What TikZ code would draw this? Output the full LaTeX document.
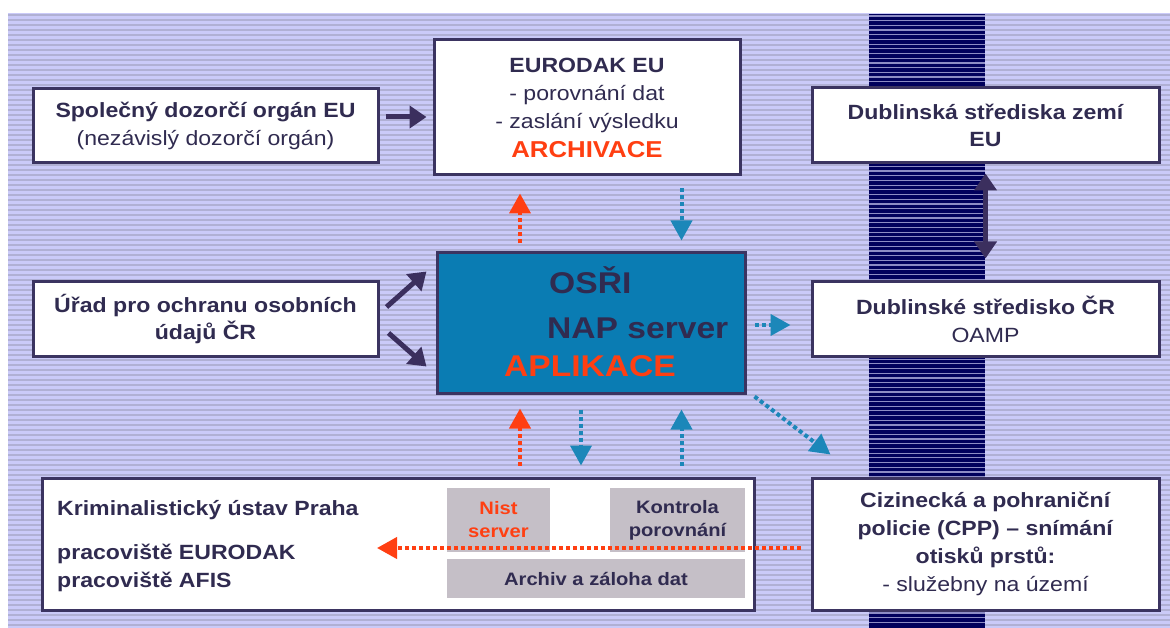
\documentclass[tikz,border=0pt]{standalone}
\usepackage{fontspec}
\setmainfont{Liberation Sans}[FakeStretch=1.12]
\usepackage{tikz}
\usetikzlibrary{arrows.meta}
\usepackage{xcolor}
\definecolor{bglav}{HTML}{CACAF8}
\definecolor{bgline}{HTML}{B0B0D4}
\definecolor{bandnavy}{HTML}{00005C}
\definecolor{bandline}{HTML}{8C8CC4}
\definecolor{boxline}{HTML}{3B3461}
\definecolor{txtnavy}{HTML}{302B50}
\definecolor{osriblue}{HTML}{0A7CB3}
\definecolor{aplred}{HTML}{FF3F12}
\definecolor{arrowdark}{HTML}{3B2F5E}
\definecolor{dotblue}{HTML}{1C87B9}
\definecolor{grayfill}{HTML}{C5BFC7}

\begin{document}
\begin{tikzpicture}[x=1pt,y=-1pt,
  whitebox/.style={draw=boxline, line width=3pt, fill=white, text=txtnavy, align=center,
    inner sep=0pt, font=\fontsize{20.6}{28}\selectfont},
  osribox/.style={draw=boxline, line width=3pt, fill=osriblue, inner sep=0pt},
  osritext/.style={font=\bfseries\fontsize{30}{36}\selectfont, inner sep=0pt},
  graybox/.style={fill=grayfill, inner sep=0pt, align=center, text=txtnavy,
    font=\bfseries\fontsize{18}{23}\selectfont},
  krimtext/.style={anchor=base west, inner sep=0pt, text=txtnavy, font=\bfseries\fontsize{20.6}{28}\selectfont},
  darrow/.style={-{Triangle[length=17pt,width=22pt]}, line width=5pt, draw=arrowdark},
  dblarrow/.style={{Triangle[length=17pt,width=22pt]}-{Triangle[length=17pt,width=22pt]},
    line width=5pt, draw=arrowdark},
  redarrow/.style={-{Triangle[length=20pt,width=21pt]}, line width=4pt, draw=aplred,
    dash pattern=on 4pt off 3pt},
  bluearrow/.style={-{Triangle[length=20pt,width=21pt]}, line width=4pt, draw=dotblue,
    dash pattern=on 4pt off 3pt}]
  \useasboundingbox (0,0) rectangle (1170,628);
  % striped background and dark band
  \fill[white] (0,0) rectangle (1170,628);
  \fill[bglav] (8,13) rectangle (1170,628);
  \foreach \y in {15,20,...,625}
    \draw[bgline, line width=1.5pt] (8,\y) -- (1170,\y);
  \fill[bandnavy] (869,14) rectangle (985,628);
  \foreach \y in {16,20.7,...,626}
    \draw[bandline, line width=1.2pt] (869,\y) -- (985,\y);

  % boxes
  \node[whitebox, minimum width=345pt, minimum height=74pt] (spol) at (205.5,126)
    {\textbf{Společný dozorčí orgán EU}\\(nezávislý dozorčí orgán)};
  \node[whitebox, minimum width=306pt, minimum height=135pt] (euro) at (587,107.5)
    {\textbf{EURODAK EU}\\- porovnání dat\\- zaslání výsledku\\[1pt]
     \textcolor{aplred}{\bfseries\fontsize{23}{28}\selectfont ARCHIVACE}};
  \node[whitebox, font=\bfseries\fontsize{20.6}{27}\selectfont, minimum width=347pt,
    minimum height=75pt] (dubeu) at (985.5,125.5) {Dublinská střediska zemí\\EU};
  \node[whitebox, font=\bfseries\fontsize{20.6}{27}\selectfont, minimum width=345pt,
    minimum height=74pt] (urad) at (205.5,319) {Úřad pro ochranu osobních\\údajů ČR};
  \node[osribox, minimum width=308pt, minimum height=140pt] (osri) at (591,323) {};
  \node[osritext, text=txtnavy, anchor=base west] (osrit) at (549,294) {OSŘI};
  \node[osritext, text=txtnavy, anchor=base west] (napt) at (547,338) {NAP server};
  \node[osritext, text=aplred, anchor=base] (aplt) at (590,376) {APLIKACE};
  \node[whitebox, minimum width=347pt, minimum height=74pt] (dubcr) at (985.5,319)
    {\textbf{Dublinské středisko ČR}\\OAMP};
  \node[whitebox, minimum width=712pt, minimum height=132pt] (krim) at (398,544) {};
  \node[krimtext] (krimt) at (57,515) {Kriminalistický ústav Praha};
  \node[krimtext] (praceu) at (57,559) {pracoviště EURODAK};
  \node[krimtext] (pracaf) at (57,587) {pracoviště AFIS};
  \node[graybox, minimum width=103pt, minimum height=64pt, text=aplred] (nist) at (498.5,520)
    {Nist\\server};
  \node[graybox, minimum width=135pt, minimum height=64pt] (kontr) at (677.5,520)
    {Kontrola\\porovnání};
  \node[graybox, minimum width=298pt, minimum height=39pt] (archiv) at (596,578.5)
    {Archiv a záloha dat};
  \node[whitebox, minimum width=347pt, minimum height=132pt] (cpp) at (985.5,544)
    {\textbf{Cizinecká a pohraniční}\\\textbf{policie (CPP) – snímání}\\
     \textbf{otisků prstů:}\\- služebny na území};
  \coordinate (kutip) at (377,548);

  % connectors
  \draw[darrow] ([xshift=6pt,yshift=9pt]spol.east) -- ([xshift=-6pt,yshift=9pt]spol.east -| euro.west);
  \draw[darrow] ([xshift=7pt,yshift=12pt]urad.east) -- ([xshift=-9pt,yshift=-20pt]osri.north west);
  \draw[darrow] ([xshift=9pt,yshift=-14pt]urad.east) -- ([xshift=-9pt,yshift=28pt]osri.south west);
  \draw[dblarrow] ([yshift=-9pt]dubeu.south) -- ([yshift=22pt]dubcr.north);
  \draw[redarrow] ([xshift=-71pt,yshift=8pt]osri.north) -- ([xshift=-67pt,yshift=-17pt]euro.south);
  \draw[bluearrow] ([xshift=94.5pt,yshift=-12pt]euro.south) -- ([xshift=90.5pt,yshift=11pt]osri.north);
  \draw[bluearrow] ([xshift=8pt,yshift=-2pt]osri.east) -- ([xshift=-20pt,yshift=-2pt]osri.east -| dubcr.west);
  \draw[bluearrow] ([xshift=8pt,yshift=-2pt]osri.south east) -- ([xshift=20pt,yshift=22pt]cpp.north west);
  \draw[redarrow] ([xshift=122pt,yshift=11pt]krim.north) -- ([xshift=-71pt,yshift=-14pt]osri.south);
  \draw[bluearrow] ([xshift=-10pt,yshift=-15pt]osri.south) -- ([xshift=183pt,yshift=11pt]krim.north);
  \draw[bluearrow] ([xshift=283.5pt,yshift=11pt]krim.north) -- ([xshift=90.5pt,yshift=-15pt]osri.south);
  \draw[redarrow] ([xshift=-10pt,yshift=-4pt]cpp.west) -- (kutip);
\end{tikzpicture}
\end{document}
